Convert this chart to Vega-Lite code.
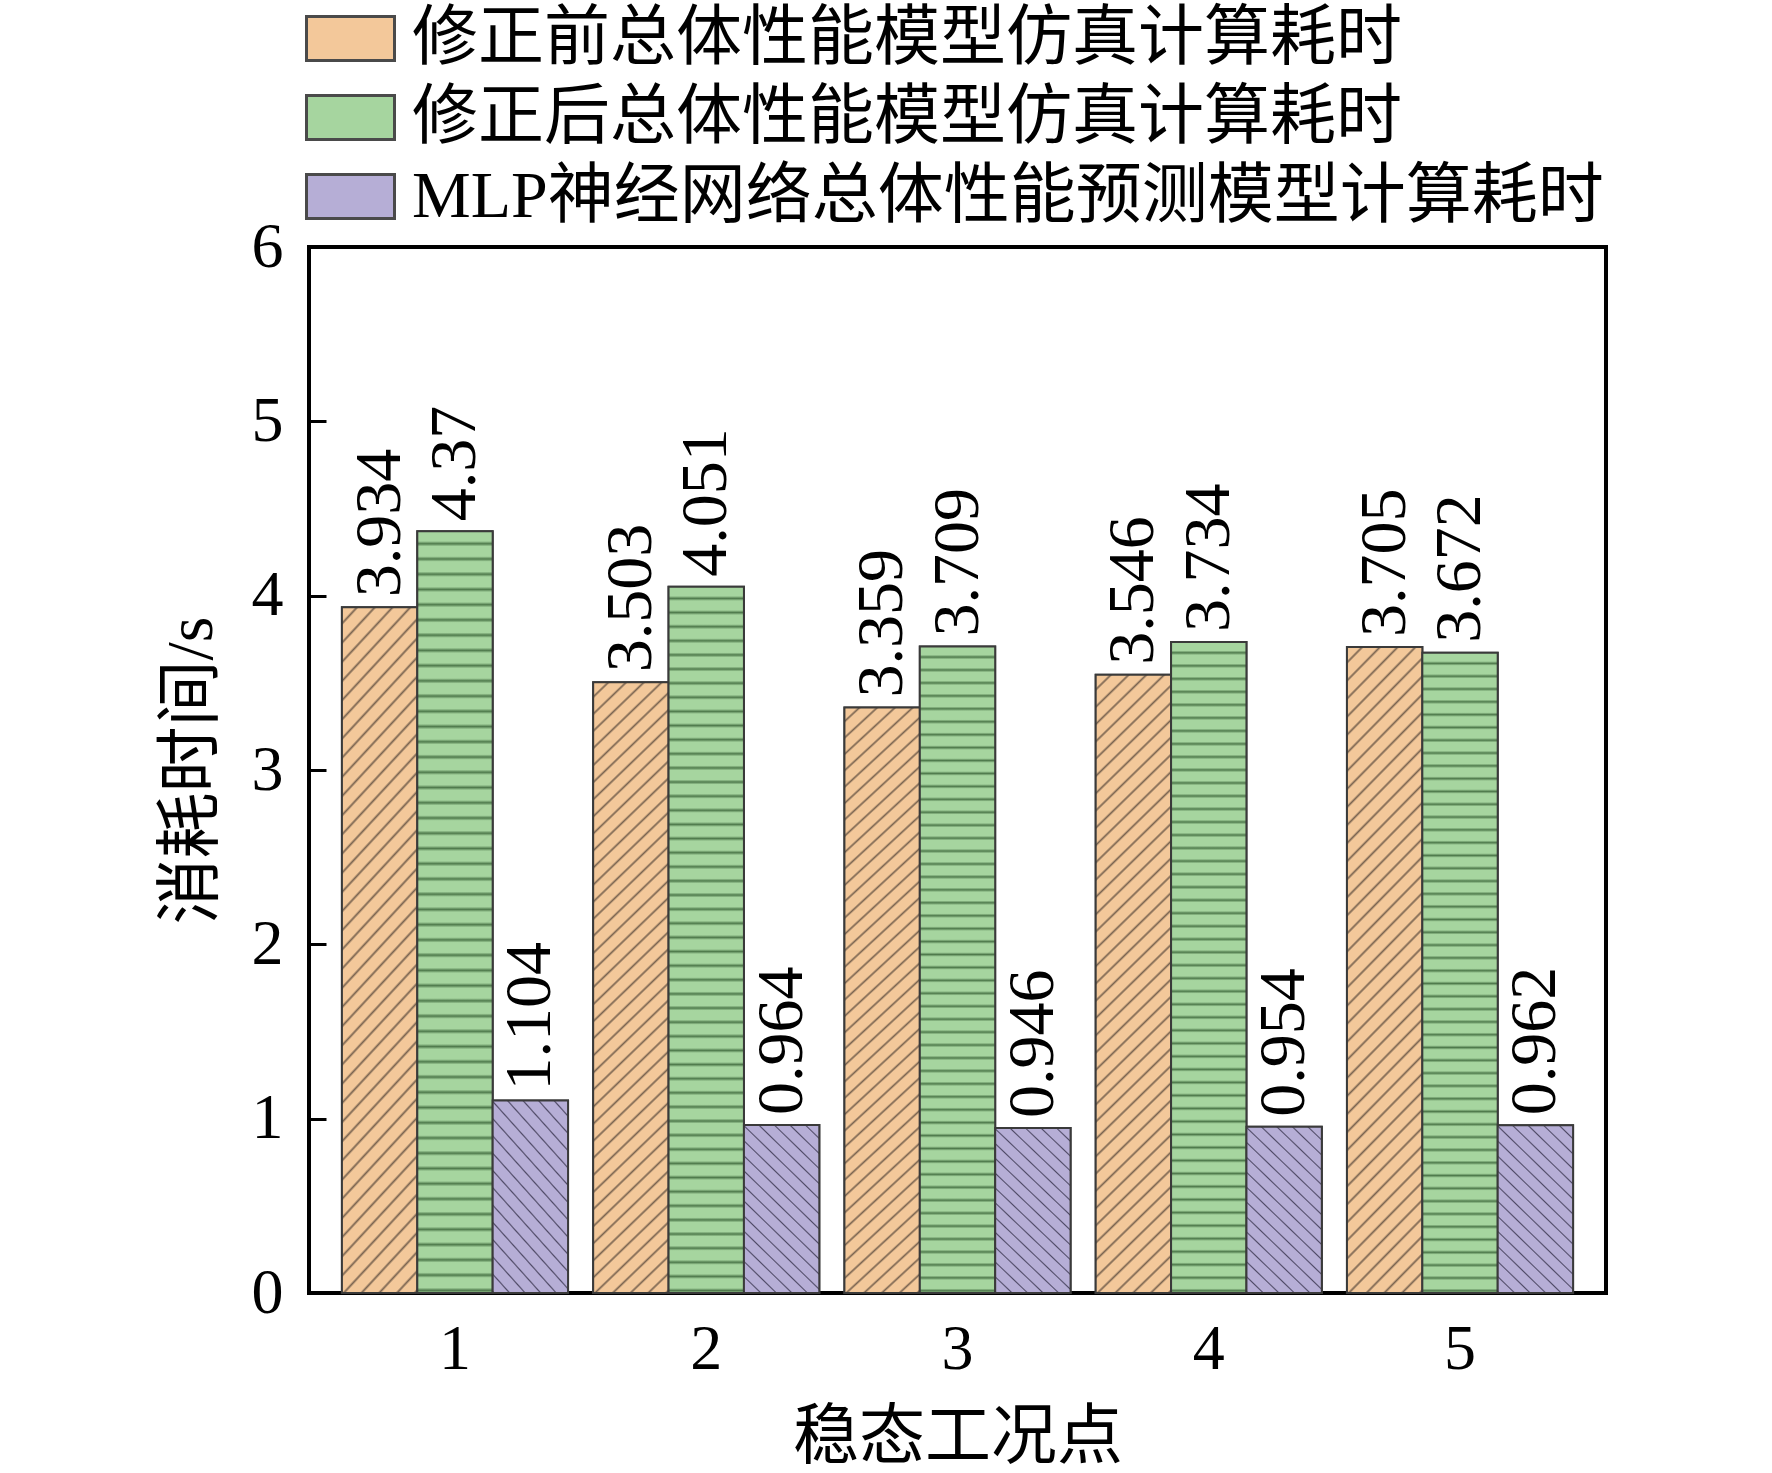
{
  "$schema": "https://vega.github.io/schema/vega-lite/v6.json",
  "width": 1297,
  "height": 1046,
  "autosize": {"type": "none"},
  "padding": {"left": 309, "top": 247, "right": 166, "bottom": 180},
  "background": "white",
  "config": {
    "font": "Liberation Serif, Noto Sans CJK SC",
    "view": {"stroke": "black", "strokeWidth": 4},
    "axis": {"labelColor": "black", "titleColor": "black", "titleFontWeight": "normal", "grid": false, "domain": false,
             "labelFont": "Liberation Serif", "titleFont": "Liberation Serif, Noto Sans CJK SC"},
    "legend": {"labelFont": "Liberation Serif, Noto Sans CJK SC", "labelColor": "black"}
  },
  "data": {
    "values": [
      {"point": "1", "series": "修正前总体性能模型仿真计算耗时", "time": 3.934},
      {"point": "1", "series": "修正后总体性能模型仿真计算耗时", "time": 4.37},
      {"point": "1", "series": "MLP神经网络总体性能预测模型计算耗时", "time": 1.104},
      {"point": "2", "series": "修正前总体性能模型仿真计算耗时", "time": 3.503},
      {"point": "2", "series": "修正后总体性能模型仿真计算耗时", "time": 4.051},
      {"point": "2", "series": "MLP神经网络总体性能预测模型计算耗时", "time": 0.964},
      {"point": "3", "series": "修正前总体性能模型仿真计算耗时", "time": 3.359},
      {"point": "3", "series": "修正后总体性能模型仿真计算耗时", "time": 3.709},
      {"point": "3", "series": "MLP神经网络总体性能预测模型计算耗时", "time": 0.946},
      {"point": "4", "series": "修正前总体性能模型仿真计算耗时", "time": 3.546},
      {"point": "4", "series": "修正后总体性能模型仿真计算耗时", "time": 3.734},
      {"point": "4", "series": "MLP神经网络总体性能预测模型计算耗时", "time": 0.954},
      {"point": "5", "series": "修正前总体性能模型仿真计算耗时", "time": 3.705},
      {"point": "5", "series": "修正后总体性能模型仿真计算耗时", "time": 3.672},
      {"point": "5", "series": "MLP神经网络总体性能预测模型计算耗时", "time": 0.962}
    ]
  },
  "encoding": {
    "x": {
      "field": "point", "type": "nominal",
      "scale": {"paddingInner": 0.1, "paddingOuter": 0.131},
      "axis": {"title": "稳态工况点", "labelAngle": 0, "labelFontSize": 64, "labelPadding": 24, "ticks": false,
               "titleFontSize": 66, "titleY": 144, "titleBaseline": "middle"}
    },
    "xOffset": {
      "field": "series", "type": "nominal",
      "scale": {"domain": ["修正前总体性能模型仿真计算耗时", "修正后总体性能模型仿真计算耗时", "MLP神经网络总体性能预测模型计算耗时"]}
    },
    "y": {
      "field": "time", "type": "quantitative",
      "scale": {"domain": [0, 6], "nice": false},
      "axis": {"title": "消耗时间/s", "values": [0, 1, 2, 3, 4, 5, 6], "labelFontSize": 64, "tickSize": -17, "tickWidth": 3,
               "tickColor": "black", "labelPadding": 43, "titleFontSize": 66, "titleAngle": 270, "titleX": -118, "titleY": 523,
               "titleAlign": "center", "titleBaseline": "middle"}
    }
  },
  "layer": [
    {
      "mark": {"type": "bar", "stroke": "#3a3a3a", "strokeWidth": 2},
      "encoding": {
        "fill": {
          "field": "series", "type": "nominal",
          "scale": {"domain": ["修正前总体性能模型仿真计算耗时", "修正后总体性能模型仿真计算耗时", "MLP神经网络总体性能预测模型计算耗时"],
                    "range": ["#f3c89a", "#a6d59f", "#b6aed6"]},
          "legend": {"orient": "none", "legendX": 0, "legendY": -250, "title": null,
                     "symbolType": "M-1.1,-0.55H1.1V0.55H-1.1Z", "symbolSize": 6400,
                     "symbolStrokeColor": "#4a4a4a", "symbolStrokeWidth": 3, "symbolOpacity": 1,
                     "labelFontSize": 66, "labelLimit": 2000, "rowPadding": 4, "labelOffset": 20}
        }
      }
    },
    {
      "transform": [{"filter": {"field": "series", "equal": "修正前总体性能模型仿真计算耗时"}}],
      "mark": {"type": "bar", "stroke": "#3a3a3a", "strokeWidth": 2,
        "fill": {"gradient": "linear", "x1": 0, "y1": 0, "x2": 0.131, "y2": 1.103, "stops": [
          {"offset": 0, "color": "#f3c89a"},
          {"offset": 0.018, "color": "#f3c89a"}, {"offset": 0.0215, "color": "#7a6450"}, {"offset": 0.025, "color": "#f3c89a"},
          {"offset": 0.043, "color": "#f3c89a"}, {"offset": 0.0465, "color": "#7a6450"}, {"offset": 0.05, "color": "#f3c89a"},
          {"offset": 0.068, "color": "#f3c89a"}, {"offset": 0.0715, "color": "#7a6450"}, {"offset": 0.075, "color": "#f3c89a"},
          {"offset": 0.093, "color": "#f3c89a"}, {"offset": 0.0965, "color": "#7a6450"}, {"offset": 0.1, "color": "#f3c89a"},
          {"offset": 0.118, "color": "#f3c89a"}, {"offset": 0.1215, "color": "#7a6450"}, {"offset": 0.125, "color": "#f3c89a"},
          {"offset": 0.143, "color": "#f3c89a"}, {"offset": 0.1465, "color": "#7a6450"}, {"offset": 0.15, "color": "#f3c89a"},
          {"offset": 0.168, "color": "#f3c89a"}, {"offset": 0.1715, "color": "#7a6450"}, {"offset": 0.175, "color": "#f3c89a"},
          {"offset": 0.193, "color": "#f3c89a"}, {"offset": 0.1965, "color": "#7a6450"}, {"offset": 0.2, "color": "#f3c89a"},
          {"offset": 0.218, "color": "#f3c89a"}, {"offset": 0.2215, "color": "#7a6450"}, {"offset": 0.225, "color": "#f3c89a"},
          {"offset": 0.243, "color": "#f3c89a"}, {"offset": 0.2465, "color": "#7a6450"}, {"offset": 0.25, "color": "#f3c89a"},
          {"offset": 0.268, "color": "#f3c89a"}, {"offset": 0.2715, "color": "#7a6450"}, {"offset": 0.275, "color": "#f3c89a"},
          {"offset": 0.293, "color": "#f3c89a"}, {"offset": 0.2965, "color": "#7a6450"}, {"offset": 0.3, "color": "#f3c89a"},
          {"offset": 0.318, "color": "#f3c89a"}, {"offset": 0.3215, "color": "#7a6450"}, {"offset": 0.325, "color": "#f3c89a"},
          {"offset": 0.343, "color": "#f3c89a"}, {"offset": 0.3465, "color": "#7a6450"}, {"offset": 0.35, "color": "#f3c89a"},
          {"offset": 0.368, "color": "#f3c89a"}, {"offset": 0.3715, "color": "#7a6450"}, {"offset": 0.375, "color": "#f3c89a"},
          {"offset": 0.393, "color": "#f3c89a"}, {"offset": 0.3965, "color": "#7a6450"}, {"offset": 0.4, "color": "#f3c89a"},
          {"offset": 0.418, "color": "#f3c89a"}, {"offset": 0.4215, "color": "#7a6450"}, {"offset": 0.425, "color": "#f3c89a"},
          {"offset": 0.443, "color": "#f3c89a"}, {"offset": 0.4465, "color": "#7a6450"}, {"offset": 0.45, "color": "#f3c89a"},
          {"offset": 0.468, "color": "#f3c89a"}, {"offset": 0.4715, "color": "#7a6450"}, {"offset": 0.475, "color": "#f3c89a"},
          {"offset": 0.493, "color": "#f3c89a"}, {"offset": 0.4965, "color": "#7a6450"}, {"offset": 0.5, "color": "#f3c89a"},
          {"offset": 0.518, "color": "#f3c89a"}, {"offset": 0.5215, "color": "#7a6450"}, {"offset": 0.525, "color": "#f3c89a"},
          {"offset": 0.543, "color": "#f3c89a"}, {"offset": 0.5465, "color": "#7a6450"}, {"offset": 0.55, "color": "#f3c89a"},
          {"offset": 0.568, "color": "#f3c89a"}, {"offset": 0.5715, "color": "#7a6450"}, {"offset": 0.575, "color": "#f3c89a"},
          {"offset": 0.593, "color": "#f3c89a"}, {"offset": 0.5965, "color": "#7a6450"}, {"offset": 0.6, "color": "#f3c89a"},
          {"offset": 0.618, "color": "#f3c89a"}, {"offset": 0.6215, "color": "#7a6450"}, {"offset": 0.625, "color": "#f3c89a"},
          {"offset": 0.643, "color": "#f3c89a"}, {"offset": 0.6465, "color": "#7a6450"}, {"offset": 0.65, "color": "#f3c89a"},
          {"offset": 0.668, "color": "#f3c89a"}, {"offset": 0.6715, "color": "#7a6450"}, {"offset": 0.675, "color": "#f3c89a"},
          {"offset": 0.693, "color": "#f3c89a"}, {"offset": 0.6965, "color": "#7a6450"}, {"offset": 0.7, "color": "#f3c89a"},
          {"offset": 0.718, "color": "#f3c89a"}, {"offset": 0.7215, "color": "#7a6450"}, {"offset": 0.725, "color": "#f3c89a"},
          {"offset": 0.743, "color": "#f3c89a"}, {"offset": 0.7465, "color": "#7a6450"}, {"offset": 0.75, "color": "#f3c89a"},
          {"offset": 0.768, "color": "#f3c89a"}, {"offset": 0.7715, "color": "#7a6450"}, {"offset": 0.775, "color": "#f3c89a"},
          {"offset": 0.793, "color": "#f3c89a"}, {"offset": 0.7965, "color": "#7a6450"}, {"offset": 0.8, "color": "#f3c89a"},
          {"offset": 0.818, "color": "#f3c89a"}, {"offset": 0.8215, "color": "#7a6450"}, {"offset": 0.825, "color": "#f3c89a"},
          {"offset": 0.843, "color": "#f3c89a"}, {"offset": 0.8465, "color": "#7a6450"}, {"offset": 0.85, "color": "#f3c89a"},
          {"offset": 0.868, "color": "#f3c89a"}, {"offset": 0.8715, "color": "#7a6450"}, {"offset": 0.875, "color": "#f3c89a"},
          {"offset": 0.893, "color": "#f3c89a"}, {"offset": 0.8965, "color": "#7a6450"}, {"offset": 0.9, "color": "#f3c89a"},
          {"offset": 0.918, "color": "#f3c89a"}, {"offset": 0.9215, "color": "#7a6450"}, {"offset": 0.925, "color": "#f3c89a"},
          {"offset": 0.943, "color": "#f3c89a"}, {"offset": 0.9465, "color": "#7a6450"}, {"offset": 0.95, "color": "#f3c89a"},
          {"offset": 0.968, "color": "#f3c89a"}, {"offset": 0.9715, "color": "#7a6450"}, {"offset": 0.975, "color": "#f3c89a"},
          {"offset": 0.993, "color": "#f3c89a"}, {"offset": 0.9965, "color": "#7a6450"}, {"offset": 1, "color": "#f3c89a"}
        ]}
      }
    },
    {
      "transform": [{"filter": {"field": "series", "equal": "修正后总体性能模型仿真计算耗时"}}],
      "mark": {"type": "bar", "stroke": "#3a3a3a", "strokeWidth": 2,
        "fill": {"gradient": "linear", "x1": 0, "y1": 0, "x2": 0, "y2": 1, "stops": [
          {"offset": 0, "color": "#a6d59f"},
          {"offset": 0.013, "color": "#a6d59f"}, {"offset": 0.0165, "color": "#4f7a4c"}, {"offset": 0.02, "color": "#a6d59f"},
          {"offset": 0.033, "color": "#a6d59f"}, {"offset": 0.0365, "color": "#4f7a4c"}, {"offset": 0.04, "color": "#a6d59f"},
          {"offset": 0.053, "color": "#a6d59f"}, {"offset": 0.0565, "color": "#4f7a4c"}, {"offset": 0.06, "color": "#a6d59f"},
          {"offset": 0.073, "color": "#a6d59f"}, {"offset": 0.0765, "color": "#4f7a4c"}, {"offset": 0.08, "color": "#a6d59f"},
          {"offset": 0.093, "color": "#a6d59f"}, {"offset": 0.0965, "color": "#4f7a4c"}, {"offset": 0.1, "color": "#a6d59f"},
          {"offset": 0.113, "color": "#a6d59f"}, {"offset": 0.1165, "color": "#4f7a4c"}, {"offset": 0.12, "color": "#a6d59f"},
          {"offset": 0.133, "color": "#a6d59f"}, {"offset": 0.1365, "color": "#4f7a4c"}, {"offset": 0.14, "color": "#a6d59f"},
          {"offset": 0.153, "color": "#a6d59f"}, {"offset": 0.1565, "color": "#4f7a4c"}, {"offset": 0.16, "color": "#a6d59f"},
          {"offset": 0.173, "color": "#a6d59f"}, {"offset": 0.1765, "color": "#4f7a4c"}, {"offset": 0.18, "color": "#a6d59f"},
          {"offset": 0.193, "color": "#a6d59f"}, {"offset": 0.1965, "color": "#4f7a4c"}, {"offset": 0.2, "color": "#a6d59f"},
          {"offset": 0.213, "color": "#a6d59f"}, {"offset": 0.2165, "color": "#4f7a4c"}, {"offset": 0.22, "color": "#a6d59f"},
          {"offset": 0.233, "color": "#a6d59f"}, {"offset": 0.2365, "color": "#4f7a4c"}, {"offset": 0.24, "color": "#a6d59f"},
          {"offset": 0.253, "color": "#a6d59f"}, {"offset": 0.2565, "color": "#4f7a4c"}, {"offset": 0.26, "color": "#a6d59f"},
          {"offset": 0.273, "color": "#a6d59f"}, {"offset": 0.2765, "color": "#4f7a4c"}, {"offset": 0.28, "color": "#a6d59f"},
          {"offset": 0.293, "color": "#a6d59f"}, {"offset": 0.2965, "color": "#4f7a4c"}, {"offset": 0.3, "color": "#a6d59f"},
          {"offset": 0.313, "color": "#a6d59f"}, {"offset": 0.3165, "color": "#4f7a4c"}, {"offset": 0.32, "color": "#a6d59f"},
          {"offset": 0.333, "color": "#a6d59f"}, {"offset": 0.3365, "color": "#4f7a4c"}, {"offset": 0.34, "color": "#a6d59f"},
          {"offset": 0.353, "color": "#a6d59f"}, {"offset": 0.3565, "color": "#4f7a4c"}, {"offset": 0.36, "color": "#a6d59f"},
          {"offset": 0.373, "color": "#a6d59f"}, {"offset": 0.3765, "color": "#4f7a4c"}, {"offset": 0.38, "color": "#a6d59f"},
          {"offset": 0.393, "color": "#a6d59f"}, {"offset": 0.3965, "color": "#4f7a4c"}, {"offset": 0.4, "color": "#a6d59f"},
          {"offset": 0.413, "color": "#a6d59f"}, {"offset": 0.4165, "color": "#4f7a4c"}, {"offset": 0.42, "color": "#a6d59f"},
          {"offset": 0.433, "color": "#a6d59f"}, {"offset": 0.4365, "color": "#4f7a4c"}, {"offset": 0.44, "color": "#a6d59f"},
          {"offset": 0.453, "color": "#a6d59f"}, {"offset": 0.4565, "color": "#4f7a4c"}, {"offset": 0.46, "color": "#a6d59f"},
          {"offset": 0.473, "color": "#a6d59f"}, {"offset": 0.4765, "color": "#4f7a4c"}, {"offset": 0.48, "color": "#a6d59f"},
          {"offset": 0.493, "color": "#a6d59f"}, {"offset": 0.4965, "color": "#4f7a4c"}, {"offset": 0.5, "color": "#a6d59f"},
          {"offset": 0.513, "color": "#a6d59f"}, {"offset": 0.5165, "color": "#4f7a4c"}, {"offset": 0.52, "color": "#a6d59f"},
          {"offset": 0.533, "color": "#a6d59f"}, {"offset": 0.5365, "color": "#4f7a4c"}, {"offset": 0.54, "color": "#a6d59f"},
          {"offset": 0.553, "color": "#a6d59f"}, {"offset": 0.5565, "color": "#4f7a4c"}, {"offset": 0.56, "color": "#a6d59f"},
          {"offset": 0.573, "color": "#a6d59f"}, {"offset": 0.5765, "color": "#4f7a4c"}, {"offset": 0.58, "color": "#a6d59f"},
          {"offset": 0.593, "color": "#a6d59f"}, {"offset": 0.5965, "color": "#4f7a4c"}, {"offset": 0.6, "color": "#a6d59f"},
          {"offset": 0.613, "color": "#a6d59f"}, {"offset": 0.6165, "color": "#4f7a4c"}, {"offset": 0.62, "color": "#a6d59f"},
          {"offset": 0.633, "color": "#a6d59f"}, {"offset": 0.6365, "color": "#4f7a4c"}, {"offset": 0.64, "color": "#a6d59f"},
          {"offset": 0.653, "color": "#a6d59f"}, {"offset": 0.6565, "color": "#4f7a4c"}, {"offset": 0.66, "color": "#a6d59f"},
          {"offset": 0.673, "color": "#a6d59f"}, {"offset": 0.6765, "color": "#4f7a4c"}, {"offset": 0.68, "color": "#a6d59f"},
          {"offset": 0.693, "color": "#a6d59f"}, {"offset": 0.6965, "color": "#4f7a4c"}, {"offset": 0.7, "color": "#a6d59f"},
          {"offset": 0.713, "color": "#a6d59f"}, {"offset": 0.7165, "color": "#4f7a4c"}, {"offset": 0.72, "color": "#a6d59f"},
          {"offset": 0.733, "color": "#a6d59f"}, {"offset": 0.7365, "color": "#4f7a4c"}, {"offset": 0.74, "color": "#a6d59f"},
          {"offset": 0.753, "color": "#a6d59f"}, {"offset": 0.7565, "color": "#4f7a4c"}, {"offset": 0.76, "color": "#a6d59f"},
          {"offset": 0.773, "color": "#a6d59f"}, {"offset": 0.7765, "color": "#4f7a4c"}, {"offset": 0.78, "color": "#a6d59f"},
          {"offset": 0.793, "color": "#a6d59f"}, {"offset": 0.7965, "color": "#4f7a4c"}, {"offset": 0.8, "color": "#a6d59f"},
          {"offset": 0.813, "color": "#a6d59f"}, {"offset": 0.8165, "color": "#4f7a4c"}, {"offset": 0.82, "color": "#a6d59f"},
          {"offset": 0.833, "color": "#a6d59f"}, {"offset": 0.8365, "color": "#4f7a4c"}, {"offset": 0.84, "color": "#a6d59f"},
          {"offset": 0.853, "color": "#a6d59f"}, {"offset": 0.8565, "color": "#4f7a4c"}, {"offset": 0.86, "color": "#a6d59f"},
          {"offset": 0.873, "color": "#a6d59f"}, {"offset": 0.8765, "color": "#4f7a4c"}, {"offset": 0.88, "color": "#a6d59f"},
          {"offset": 0.893, "color": "#a6d59f"}, {"offset": 0.8965, "color": "#4f7a4c"}, {"offset": 0.9, "color": "#a6d59f"},
          {"offset": 0.913, "color": "#a6d59f"}, {"offset": 0.9165, "color": "#4f7a4c"}, {"offset": 0.92, "color": "#a6d59f"},
          {"offset": 0.933, "color": "#a6d59f"}, {"offset": 0.9365, "color": "#4f7a4c"}, {"offset": 0.94, "color": "#a6d59f"},
          {"offset": 0.953, "color": "#a6d59f"}, {"offset": 0.9565, "color": "#4f7a4c"}, {"offset": 0.96, "color": "#a6d59f"},
          {"offset": 0.973, "color": "#a6d59f"}, {"offset": 0.9765, "color": "#4f7a4c"}, {"offset": 0.98, "color": "#a6d59f"},
          {"offset": 0.993, "color": "#a6d59f"}, {"offset": 0.9965, "color": "#4f7a4c"}, {"offset": 1, "color": "#a6d59f"}
        ]}
      }
    },
    {
      "transform": [{"filter": {"field": "series", "equal": "MLP神经网络总体性能预测模型计算耗时"}}],
      "mark": {"type": "bar", "stroke": "#3a3a3a", "strokeWidth": 2,
        "fill": {"gradient": "linear", "x1": 1, "y1": 0, "x2": 0.474, "y2": 1.207, "stops": [
          {"offset": 0, "color": "#b6aed6"},
          {"offset": 0.05, "color": "#b6aed6"}, {"offset": 0.0565, "color": "#4f4a66"}, {"offset": 0.0625, "color": "#b6aed6"},
          {"offset": 0.1125, "color": "#b6aed6"}, {"offset": 0.119, "color": "#4f4a66"}, {"offset": 0.125, "color": "#b6aed6"},
          {"offset": 0.175, "color": "#b6aed6"}, {"offset": 0.1815, "color": "#4f4a66"}, {"offset": 0.1875, "color": "#b6aed6"},
          {"offset": 0.2375, "color": "#b6aed6"}, {"offset": 0.244, "color": "#4f4a66"}, {"offset": 0.25, "color": "#b6aed6"},
          {"offset": 0.3, "color": "#b6aed6"}, {"offset": 0.3065, "color": "#4f4a66"}, {"offset": 0.3125, "color": "#b6aed6"},
          {"offset": 0.3625, "color": "#b6aed6"}, {"offset": 0.369, "color": "#4f4a66"}, {"offset": 0.375, "color": "#b6aed6"},
          {"offset": 0.425, "color": "#b6aed6"}, {"offset": 0.4315, "color": "#4f4a66"}, {"offset": 0.4375, "color": "#b6aed6"},
          {"offset": 0.4875, "color": "#b6aed6"}, {"offset": 0.494, "color": "#4f4a66"}, {"offset": 0.5, "color": "#b6aed6"},
          {"offset": 0.55, "color": "#b6aed6"}, {"offset": 0.5565, "color": "#4f4a66"}, {"offset": 0.5625, "color": "#b6aed6"},
          {"offset": 0.6125, "color": "#b6aed6"}, {"offset": 0.619, "color": "#4f4a66"}, {"offset": 0.625, "color": "#b6aed6"},
          {"offset": 0.675, "color": "#b6aed6"}, {"offset": 0.6815, "color": "#4f4a66"}, {"offset": 0.6875, "color": "#b6aed6"},
          {"offset": 0.7375, "color": "#b6aed6"}, {"offset": 0.744, "color": "#4f4a66"}, {"offset": 0.75, "color": "#b6aed6"},
          {"offset": 0.8, "color": "#b6aed6"}, {"offset": 0.8065, "color": "#4f4a66"}, {"offset": 0.8125, "color": "#b6aed6"},
          {"offset": 0.8625, "color": "#b6aed6"}, {"offset": 0.869, "color": "#4f4a66"}, {"offset": 0.875, "color": "#b6aed6"},
          {"offset": 0.925, "color": "#b6aed6"}, {"offset": 0.9315, "color": "#4f4a66"}, {"offset": 0.9375, "color": "#b6aed6"},
          {"offset": 0.9875, "color": "#b6aed6"}, {"offset": 0.994, "color": "#4f4a66"}, {"offset": 1, "color": "#b6aed6"}
        ]}
      }
    },
    {
      "mark": {"type": "text", "angle": 270, "align": "left", "baseline": "middle", "dx": 10, "fontSize": 66,
               "font": "Liberation Serif", "color": "black"},
      "encoding": {"text": {"field": "time", "type": "quantitative"}}
    }
  ]
}
